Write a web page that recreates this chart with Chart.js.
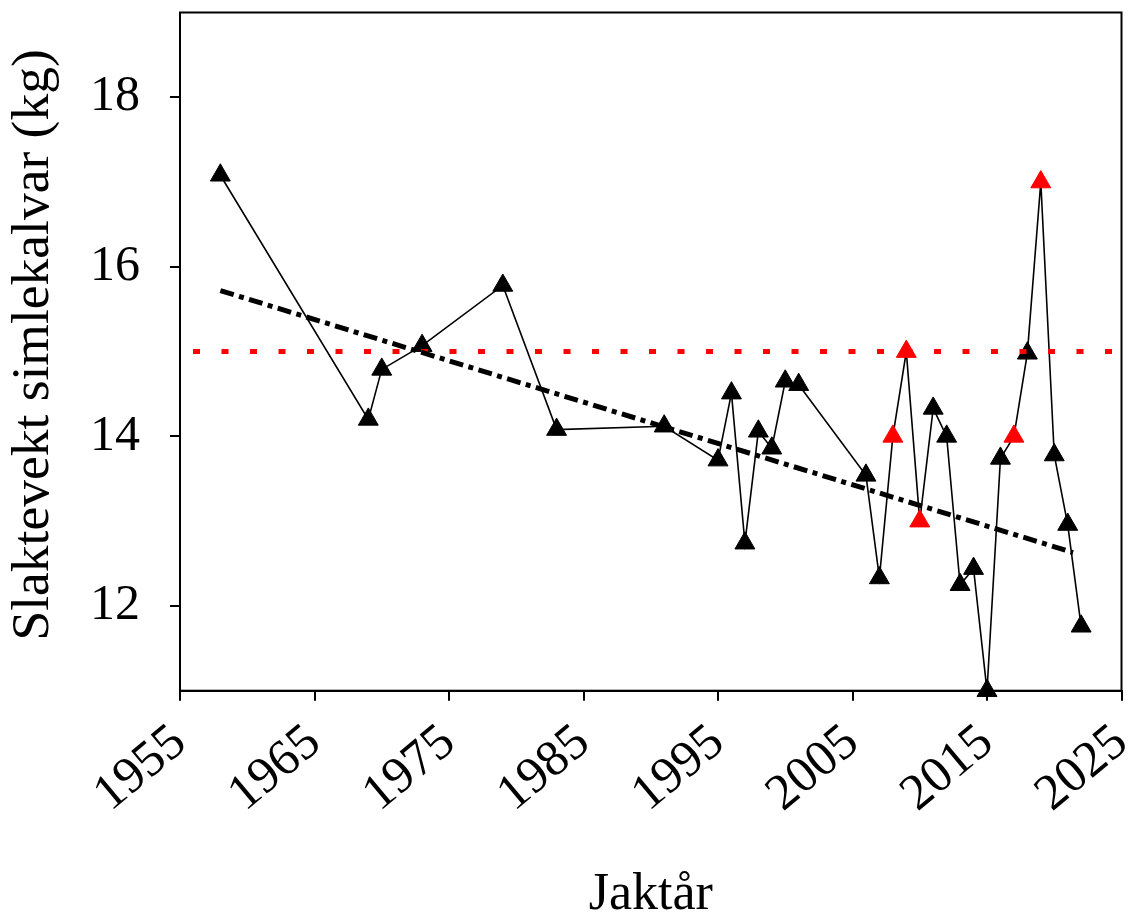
<!DOCTYPE html>
<html>
<head>
<meta charset="utf-8">
<script src="https://cdn.jsdelivr.net/npm/chart.js@4/dist/chart.umd.min.js"></script>
<style>
  body { margin: 0; background: #ffffff; }
  #wrap { width: 1134px; height: 916px; }
</style>
</head>
<body>
<div id="wrap"><canvas id="chart" width="1134" height="916"></canvas></div>
<script>
// Jaktår och slaktevikt för simlekalvar
const years = [1958, 1969, 1970, 1973, 1979, 1983, 1991, 1995, 1996, 1997, 1998, 1999, 2000, 2001,
    2006, 2007, 2008, 2009, 2010, 2011, 2012, 2013, 2014, 2015, 2016, 2017, 2018, 2019, 2020, 2021, 2022];
const weights = [17.08, 14.20, 14.79, 15.07, 15.78, 14.08, 14.12, 13.72, 14.51, 12.74, 14.06, 13.86, 14.65, 14.61,
    13.54, 12.33, 14.0, 15.0, 13.0, 14.33, 14.0, 12.25, 12.44, 11.0, 13.74, 14.0, 14.98, 17.0, 13.78, 12.96, 11.76];
const redYears = [2008, 2009, 2010, 2017, 2019];

const trendYears = [1958, 2021.4];
const trendValues = [15.72, 12.63];

const refYears = [1955, 2025];
const refValues = [15, 15];

const xTicks = [1955, 1965, 1975, 1985, 1995, 2005, 2015, 2025];
const yTicks = [12, 14, 16, 18];

const pointColors = years.map(y => redYears.includes(y) ? '#ff0000' : '#000000');

const framePlugin = {
    id: 'frame',
    afterDraw(chart) {
        const a = chart.chartArea;
        const ctx = chart.ctx;
        ctx.save();
        ctx.strokeStyle = '#000';
        ctx.lineWidth = 2;
        ctx.strokeRect(a.left, a.top, a.right - a.left, a.bottom - a.top);
        ctx.restore();
    }
};

const ctx = document.getElementById('chart').getContext('2d');
const chart = new Chart(ctx, {
    type: 'line',
    data: {
        datasets: [{
            label: 'Trend',
            data: trendYears.map((x, i) => ({ x: x, y: trendValues[i] })),
            borderColor: '#000',
            borderWidth: 5,
            borderDash: [14, 5.5, 5, 5.5],
            pointRadius: 0,
            fill: false
        }, {
            label: 'Referens',
            data: refYears.map((x, i) => ({ x: x, y: refValues[i] })),
            borderColor: '#ff0000',
            borderWidth: 5,
            borderDash: [7, 21.5],
            borderDashOffset: 15.5,
            borderCapStyle: 'butt',
            pointRadius: 0,
            fill: false
        }, {
            label: 'Slaktevekt',
            data: years.map((x, i) => ({ x: x, y: weights[i] })),
            borderColor: '#000',
            borderWidth: 1.6,
            pointStyle: 'triangle',
            pointRadius: 11.5,
            pointBorderWidth: 1,
            pointBackgroundColor: pointColors,
            pointBorderColor: pointColors,
            clip: false,
            fill: false
        }]
    },
    options: {
        responsive: false,
        animation: false,
        layout: { padding: { top: 12, right: 12.5, left: 0, bottom: 0 } },
        plugins: {
            legend: { display: false },
            tooltip: { enabled: false }
        },
        scales: {
            x: {
                type: 'linear',
                min: 1955,
                max: 2025,
                afterBuildTicks: scale => { scale.ticks = xTicks.map(v => ({ value: v })); },
                afterFit: scale => {
                    scale.height = 225.3;
                    scale.paddingLeft = 0;
                    scale.paddingRight = 0;
                },
                grid: { drawOnChartArea: false, drawTicks: true, tickLength: 10, color: '#000', lineWidth: 2 },
                border: { display: true, color: '#000', width: 2 },
                ticks: {
                    color: '#000',
                    minRotation: 40,
                    maxRotation: 40,
                    padding: 12,
                    font: { family: 'Liberation Serif', size: 51 },
                    callback: v => String(v)
                },
                title: {
                    display: true,
                    text: 'Jaktår',
                    color: '#000',
                    font: { family: 'Liberation Serif', size: 52, lineHeight: 0.8 },
                    padding: { top: 0, bottom: 0 }
                }
            },
            y: {
                min: 11,
                max: 19,
                afterBuildTicks: scale => { scale.ticks = yTicks.map(v => ({ value: v })); },
                afterFit: scale => {
                    scale.width = 180;
                    scale.paddingTop = 0;
                    scale.paddingBottom = 0;
                },
                grid: { drawOnChartArea: false, drawTicks: true, tickLength: 10, color: '#000', lineWidth: 2 },
                border: { display: true, color: '#000', width: 2 },
                ticks: {
                    color: '#000',
                    padding: 30,
                    font: { family: 'Liberation Serif', size: 50 }
                },
                title: {
                    display: true,
                    text: ' Slaktevekt simlekalvar (kg)',
                    color: '#000',
                    font: { family: 'Liberation Serif', size: 53.5, lineHeight: 1 },
                    padding: { top: 7, bottom: 0 }
                }
            }
        }
    },
    plugins: [framePlugin]
});
</script>
</body>
</html>
